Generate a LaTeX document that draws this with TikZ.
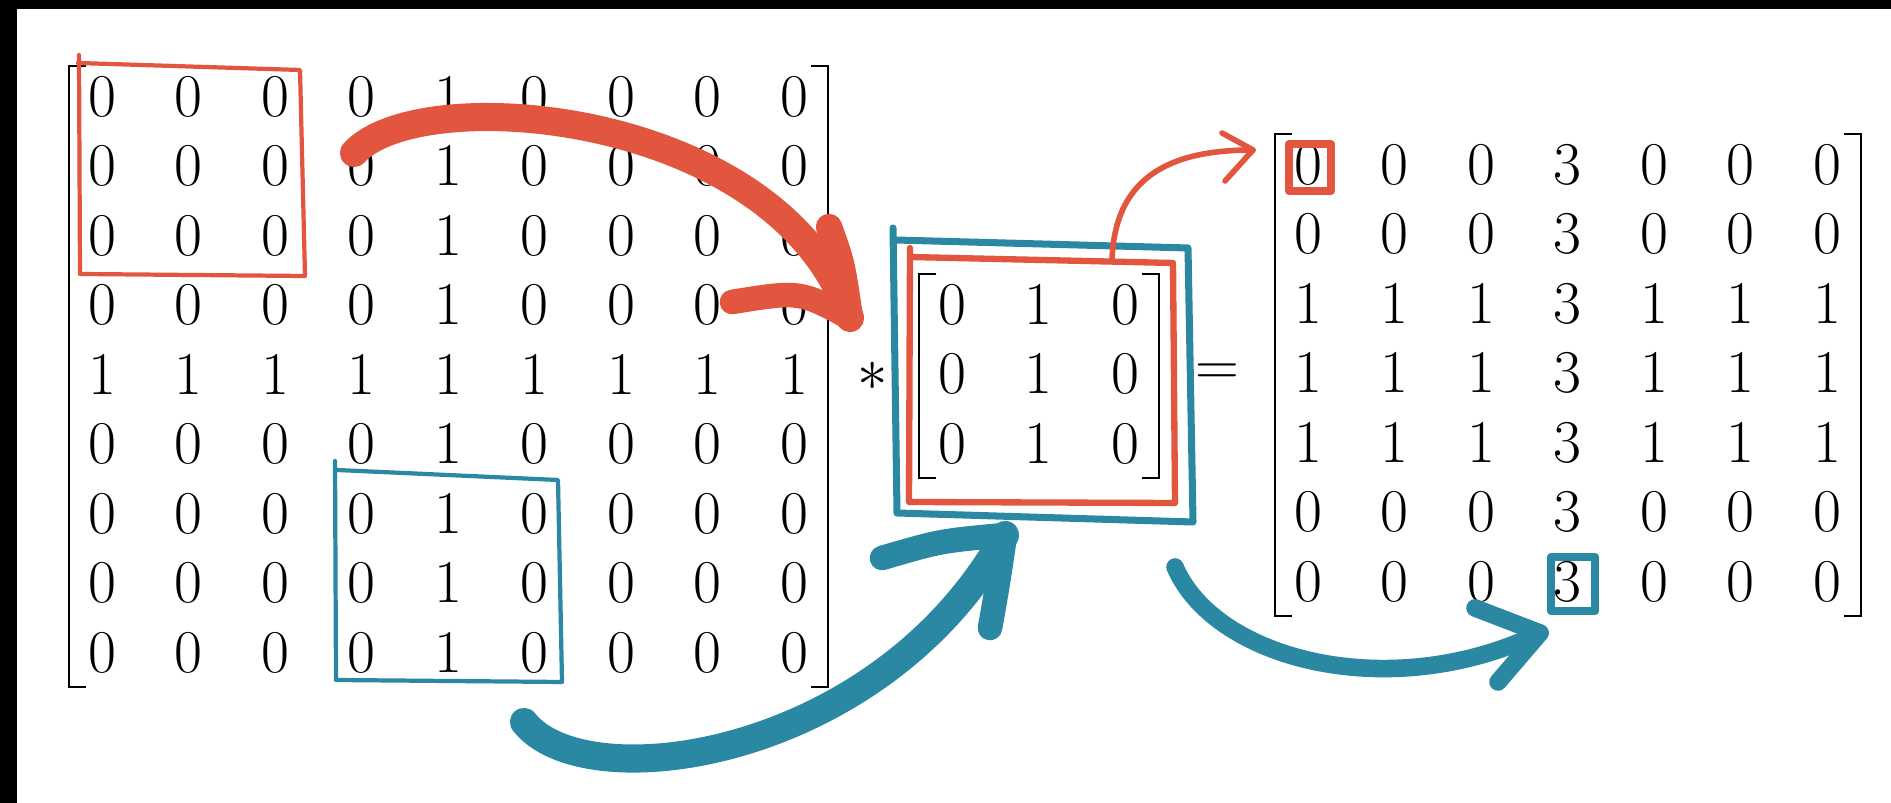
\documentclass[tikz,border=0pt]{standalone}
\usetikzlibrary{matrix,calc}
\definecolor{penred}{HTML}{E2553F}
\definecolor{penblue}{HTML}{2A88A2}

\begin{document}
\begin{tikzpicture}[
  mat/.style={matrix of math nodes, inner sep=0pt,
    nodes={font=\LARGE, inner sep=0pt, minimum width=0.865cm, minimum height=0.695cm}},
  brk/.style={line width=0.8pt},
  redpen/.style={draw=penred, line cap=round, line join=round},
  bluepen/.style={draw=penblue, line cap=round, line join=round}
]

\useasboundingbox (0,0) rectangle (18.91,8.03);
\fill[white] (0,0) rectangle (18.91,8.03);
\fill[black] (0,7.94) rectangle (18.91,8.03);
\fill[black] (0,0) rectangle (0.17,8.03);

\matrix (A) [mat] at (4.48,4.285) {
0 & 0 & 0 & 0 & 1 & 0 & 0 & 0 & 0 \\
0 & 0 & 0 & 0 & 1 & 0 & 0 & 0 & 0 \\
0 & 0 & 0 & 0 & 1 & 0 & 0 & 0 & 0 \\
0 & 0 & 0 & 0 & 1 & 0 & 0 & 0 & 0 \\
1 & 1 & 1 & 1 & 1 & 1 & 1 & 1 & 1 \\
0 & 0 & 0 & 0 & 1 & 0 & 0 & 0 & 0 \\
0 & 0 & 0 & 0 & 1 & 0 & 0 & 0 & 0 \\
0 & 0 & 0 & 0 & 1 & 0 & 0 & 0 & 0 \\
0 & 0 & 0 & 0 & 1 & 0 & 0 & 0 & 0 \\
};

\matrix (K) [mat] at (10.385,4.29) {
0 & 1 & 0 \\
0 & 1 & 0 \\
0 & 1 & 0 \\
};

\matrix (R) [mat] at (15.675,4.30) {
0 & 0 & 0 & 3 & 0 & 0 & 0 \\
0 & 0 & 0 & 3 & 0 & 0 & 0 \\
1 & 1 & 1 & 3 & 1 & 1 & 1 \\
1 & 1 & 1 & 3 & 1 & 1 & 1 \\
1 & 1 & 1 & 3 & 1 & 1 & 1 \\
0 & 0 & 0 & 3 & 0 & 0 & 0 \\
0 & 0 & 0 & 3 & 0 & 0 & 0 \\
};

\node[font=\LARGE] (conv) at (8.73,4.27) {$*$};
\node[font=\LARGE] (eq) at (12.17,4.28) {$=$};

\foreach \m in {A,K,R} {
  \draw[brk] ($(\m.north west)+(0.28,-0.05)$) -- ++(-0.17,0) -- ($(\m.south west)+(0.11,0.01)$) -- ++(0.17,0);
  \draw[brk] ($(\m.north east)+(-0.27,-0.05)$) -- ++(0.17,0) -- ($(\m.south east)+(-0.10,0.01)$) -- ++(-0.17,0);
}

\draw[redpen, line width=1.2pt] (0.79,7.48) -- (0.80,5.29) -- (3.05,5.27) -- (3.00,7.33) -- (0.78,7.40);
\draw[redpen, line width=1.8pt] (9.10,5.55) -- (9.09,3.01) -- (11.75,3.00) -- (11.73,5.40) -- (9.10,5.46);
\draw[redpen, line width=2.3pt] (12.89,6.59) rectangle (13.31,6.12);

\draw[bluepen, line width=1.2pt] (3.35,3.42) -- (3.36,1.23) -- (5.62,1.21) -- (5.58,3.23) -- (3.37,3.33);
\draw[bluepen, line width=2pt] (8.93,5.75) -- (8.97,2.90) -- (11.93,2.81) -- (11.88,5.55) -- (8.95,5.63);
\draw[bluepen, line width=2.3pt] (15.51,2.46) rectangle (15.95,1.92);

\coordinate (redtail) at (3.54,6.50);
\coordinate (redtip) at (8.50,4.85);
\draw[redpen, line width=8pt] (redtail) .. controls (4.20,7.23) and (7.80,6.93) .. (redtip);
\draw[redpen, line width=7.5pt] (8.29,5.76) .. controls (8.42,5.40) .. (redtip);
\draw[redpen, line width=7pt] (7.32,5.01) .. controls (8.00,5.12) .. (redtip);

\coordinate (kerntop) at (11.12,5.43);
\coordinate (firstout) at (12.53,6.53);
\draw[redpen, line width=1.6pt] (kerntop) .. controls (11.15,6.33) and (11.80,6.53) .. (firstout);
\draw[redpen, line width=1.6pt] (12.22,6.70) -- (firstout) -- (12.25,6.22);

\coordinate (bluetail) at (5.24,0.81);
\coordinate (bluetip) at (10.05,2.68);
\draw[bluepen, line width=8pt] (bluetail) .. controls (5.85,0.03) and (8.80,0.43) .. (bluetip);
\draw[bluepen, line width=7pt] (8.82,2.45) .. controls (9.40,2.62) .. (bluetip);
\draw[bluepen, line width=7pt] (9.90,1.75) .. controls (9.98,2.20) .. (bluetip);

\coordinate (kernbot) at (11.75,2.36);
\coordinate (lastout) at (15.40,1.70);
\draw[bluepen, line width=5pt] (kernbot) .. controls (12.15,1.43) and (13.90,0.98) .. (lastout);
\draw[bluepen, line width=5pt] (14.75,1.95) -- (lastout) -- (14.98,1.21);

\end{tikzpicture}
\end{document}
